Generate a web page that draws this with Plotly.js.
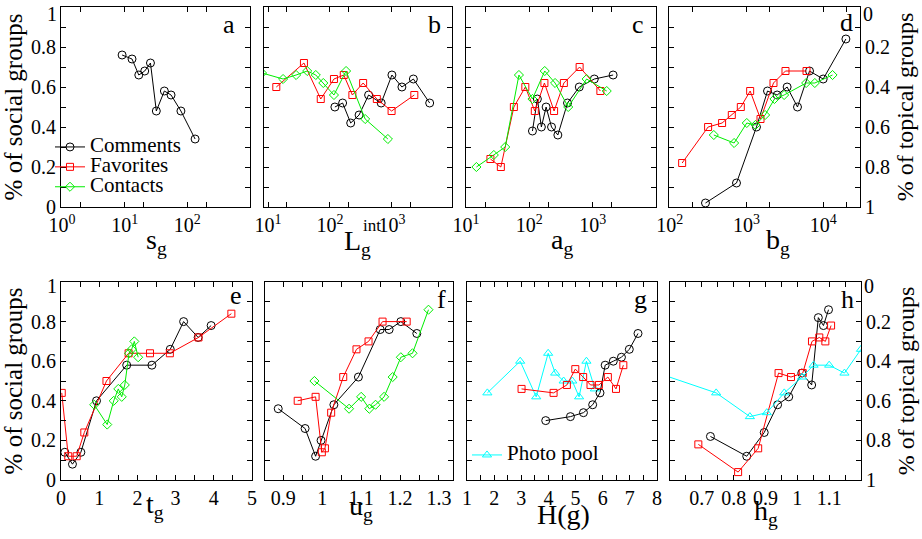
<!DOCTYPE html>
<html>
<head>
<meta charset="utf-8">
<script src="https://cdn.plot.ly/plotly-3.0.1.min.js"></script>
<style>html,body{margin:0;padding:0;background:#fff}#chart{width:922px;height:539px}</style>
</head>
<body>
<div id="chart"></div>
<script>
// ---------------- DATA ----------------
// panel a : s_g
var aCommentsX = [9.1, 13.1, 16.8, 20.9, 25.8, 32, 43, 55, 79, 133];
var aCommentsY = [0.76, 0.74, 0.66, 0.68, 0.72, 0.48, 0.58, 0.56, 0.48, 0.34];
// panel b : L_g^int
var bCommentsX = [120, 160, 216, 295, 420, 671, 1000, 1450, 2220, 4070];
var bCommentsY = [0.50, 0.52, 0.42, 0.46, 0.56, 0.52, 0.66, 0.60, 0.64, 0.52];
var bFavoritesX = [13.6, 38, 71, 116, 167, 230, 343, 571, 988, 2300];
var bFavoritesY = [0.60, 0.72, 0.54, 0.64, 0.66, 0.56, 0.62, 0.54, 0.48, 0.56];
var bContactsX = [8, 17.5, 28.4, 42.9, 59, 78, 116, 182, 370, 861];
var bContactsY = [0.67, 0.64, 0.66, 0.68, 0.66, 0.62, 0.56, 0.68, 0.44, 0.34];
// panel c : a_g
var cCommentsX = [112, 134, 155, 184, 224, 282, 401, 614, 1062, 2103];
var cCommentsY = [0.38, 0.54, 0.40, 0.50, 0.40, 0.36, 0.52, 0.60, 0.64, 0.66];
var cFavoritesX = [24.3, 35.5, 57, 86.5, 122, 173, 246, 351, 622, 1324];
var cFavoritesY = [0.24, 0.20, 0.50, 0.60, 0.48, 0.62, 0.48, 0.62, 0.70, 0.58];
var cContactsX = [14.6, 27.5, 41.6, 68.5, 112, 175, 255, 411, 803, 1667];
var cContactsY = [0.20, 0.26, 0.30, 0.66, 0.54, 0.68, 0.62, 0.50, 0.64, 0.58];
// panel d : b_g  (values on the right axis: % of topical groups)
var dCommentsX = [292, 741, 1350, 1880, 2512, 3390, 4624, 6637, 10000, 19780];
var dCommentsY = [0.98, 0.88, 0.60, 0.42, 0.44, 0.40, 0.50, 0.32, 0.36, 0.16];
var dFavoritesX = [145, 316, 481, 644, 844, 1117, 1524, 2250, 3226, 6066];
var dFavoritesY = [0.78, 0.60, 0.58, 0.54, 0.50, 0.42, 0.56, 0.38, 0.32, 0.32];
var dContactsX = [375, 690, 1009, 1309, 1750, 2317, 3097, 6000, 7780, 13240];
var dContactsY = [0.64, 0.68, 0.58, 0.59, 0.54, 0.46, 0.44, 0.38, 0.38, 0.34];
// panel e : t_g
var eCommentsX = [0.10, 0.30, 0.52, 0.93, 1.72, 2.38, 2.86, 3.21, 3.59, 3.93];
var eCommentsY = [0.14, 0.08, 0.14, 0.40, 0.58, 0.58, 0.66, 0.80, 0.72, 0.78];
var eFavoritesX = [0.02, 0.19, 0.41, 0.61, 1.19, 1.77, 2.33, 2.85, 3.6, 4.46];
var eFavoritesY = [0.44, 0.12, 0.12, 0.24, 0.50, 0.64, 0.64, 0.64, 0.72, 0.84];
var eContactsX = [0.87, 1.21, 1.38, 1.50, 1.59, 1.67, 1.78, 1.85, 1.92, 2.02];
var eContactsY = [0.38, 0.28, 0.40, 0.46, 0.42, 0.48, 0.64, 0.66, 0.70, 0.62];
// panel f : u_g
var fCommentsX = [0.887, 0.956, 0.983, 0.997, 1.030, 1.093, 1.149, 1.172, 1.202, 1.243];
var fCommentsY = [0.36, 0.26, 0.12, 0.20, 0.38, 0.52, 0.76, 0.76, 0.80, 0.74];
var fFavoritesX = [0.937, 0.983, 0.999, 1.007, 1.023, 1.054, 1.088, 1.119, 1.155, 1.217];
var fFavoritesY = [0.40, 0.42, 0.14, 0.16, 0.34, 0.52, 0.66, 0.70, 0.80, 0.80];
var fContactsX = [0.980, 1.069, 1.100, 1.121, 1.137, 1.159, 1.181, 1.202, 1.232, 1.273];
var fContactsY = [0.50, 0.36, 0.42, 0.36, 0.38, 0.42, 0.52, 0.62, 0.64, 0.86];
// panel g : H(g)
var gCommentsX = [3.9, 4.81, 5.29, 5.63, 5.9, 6.09, 6.39, 6.69, 6.98, 7.3];
var gCommentsY = [0.30, 0.32, 0.34, 0.38, 0.44, 0.58, 0.60, 0.62, 0.66, 0.74];
var gFavoritesX = [3.01, 4.19, 4.68, 4.99, 5.28, 5.55, 5.86, 6.19, 6.49, 6.76];
var gFavoritesY = [0.46, 0.44, 0.48, 0.56, 0.52, 0.48, 0.48, 0.52, 0.46, 0.58];
var gPoolX = [1.75, 2.96, 3.55, 3.99, 4.25, 4.56, 4.88, 5.13, 5.4, 5.71];
var gPoolY = [0.44, 0.60, 0.42, 0.64, 0.54, 0.50, 0.50, 0.42, 0.60, 0.46];
// panel h : h_g (values on the right axis: % of topical groups)
var hCommentsX = [0.727, 0.841, 0.896, 0.938, 0.973, 1.014, 1.045, 1.066, 1.082, 1.098];
var hCommentsY = [0.78, 0.88, 0.76, 0.62, 0.58, 0.46, 0.52, 0.18, 0.22, 0.14];
var hFavoritesX = [0.689, 0.814, 0.877, 0.941, 0.98, 1.017, 1.046, 1.069, 1.088, 1.106];
var hFavoritesY = [0.82, 0.96, 0.84, 0.46, 0.48, 0.46, 0.30, 0.28, 0.30, 0.22];
var hPoolX = [0.58, 0.745, 0.851, 0.904, 0.959, 1.015, 1.051, 1.1, 1.148, 1.2];
var hPoolY = [0.47, 0.56, 0.68, 0.66, 0.56, 0.48, 0.42, 0.42, 0.46, 0.34];

var seriesNames = ['Comments', 'Favorites', 'Contacts', 'Photo pool'];
var panelLetters = ['a', 'b', 'c', 'd', 'e', 'f', 'g', 'h'];
var xTitles = ['s<sub>g</sub>', 'L<sub>g</sub>', 'a<sub>g</sub>', 'b<sub>g</sub>',
               't<sub>g</sub>', 'u<sub>g</sub>', 'H(g)', 'h<sub>g</sub>'];
var yTitleSocial = '% of social groups';
var yTitleTopical = '% of topical groups';
var yTickVals = [0, 0.2, 0.4, 0.6, 0.8];          // labelled on the axis itself
var yTopLabelSocial = '1';                          // top label, drawn just under the frame
var yTopLabelTopical = '0';
var logTickVals = [1, 10, 100, 1000, 10000];
var logTickText = ['10<sup>0</sup>', '10<sup>1</sup>', '10<sup>2</sup>', '10<sup>3</sup>', '10<sup>4</sup>'];
var logMinorVals = [2, 20, 200, 2000, 20000];

// ---------------- STYLE ----------------
var FONT = 'Liberation Serif';
var W = 922, H = 539;
var styles = {
  Comments: {color: '#000000', symbol: 'circle-open', size: 8},
  Favorites: {color: '#ff0000', symbol: 'square-open', size: 7},
  Contacts: {color: '#00ee00', symbol: 'diamond-open', size: 7},
  'Photo pool': {color: '#00ffff', symbol: 'triangle-up-open', size: 8}
};

function tr(name, x, y, idx, legendOpt) {
  var s = styles[name];
  var ax = idx === 1 ? '' : String(idx);
  var t = {
    type: 'scatter', mode: 'lines+markers', x: x, y: y,
    xaxis: 'x' + ax, yaxis: 'y' + ax,
    name: name,
    line: {color: s.color, width: 1},
    marker: {symbol: s.symbol, size: s.size, color: s.color, line: {color: s.color, width: 1}},
    showlegend: false, hoverinfo: 'x+y'
  };
  if (legendOpt) {
    t.showlegend = true;
    t.legend = legendOpt;
    t.name = '<span style="font-size:21px">' + name + '</span>';
  }
  return t;
}

var data = [
  tr('Comments', aCommentsX, aCommentsY, 1, 'legend'),
  tr('Favorites', [null], [null], 1, 'legend'),
  tr('Contacts', [null], [null], 1, 'legend'),
  tr('Comments', bCommentsX, bCommentsY, 2),
  tr('Favorites', bFavoritesX, bFavoritesY, 2),
  tr('Contacts', bContactsX, bContactsY, 2),
  tr('Comments', cCommentsX, cCommentsY, 3),
  tr('Favorites', cFavoritesX, cFavoritesY, 3),
  tr('Contacts', cContactsX, cContactsY, 3),
  tr('Comments', dCommentsX, dCommentsY, 4),
  tr('Favorites', dFavoritesX, dFavoritesY, 4),
  tr('Contacts', dContactsX, dContactsY, 4),
  tr('Comments', eCommentsX, eCommentsY, 5),
  tr('Favorites', eFavoritesX, eFavoritesY, 5),
  tr('Contacts', eContactsX, eContactsY, 5),
  tr('Comments', fCommentsX, fCommentsY, 6),
  tr('Favorites', fFavoritesX, fFavoritesY, 6),
  tr('Contacts', fContactsX, fContactsY, 6),
  tr('Photo pool', gPoolX, gPoolY, 7, 'legend2'),
  tr('Comments', gCommentsX, gCommentsY, 7),
  tr('Favorites', gFavoritesX, gFavoritesY, 7),
  tr('Comments', hCommentsX, hCommentsY, 8),
  tr('Favorites', hFavoritesX, hFavoritesY, 8),
  tr('Photo pool', hPoolX, hPoolY, 8)
];

// pixel boxes of panels [left, right, top, bottom]
var boxes = [
  [61, 250, 7, 207], [264, 452, 7, 207], [466, 656, 7, 207], [669, 860, 7, 207],
  [61, 252, 282, 480], [265, 453, 282, 480], [467, 657, 282, 480], [670, 861, 282, 480]
];

function base(extra) {
  var o = {
    showline: true, linecolor: '#000', linewidth: 1, mirror: 'ticks',
    ticks: 'inside', ticklen: 5, tickwidth: 1, tickcolor: '#000',
    showgrid: false, zeroline: false, automargin: false,
    ticklabeloverflow: 'allow',
    tickfont: {family: FONT, size: 20, color: '#000'}
  };
  for (var k in extra) o[k] = extra[k];
  return o;
}
var MINOR = {ticks: 'inside', ticklen: 5, tickcolor: '#000', showgrid: false};
function minor(extra) { var o = {}; for (var k in MINOR) o[k] = MINOR[k]; for (var q in extra) o[q] = extra[q]; return o; }

var xOpts = [
  {type: 'log', range: [-0.016, 3.0], tickmode: 'array', tickvals: logTickVals.slice(0, 3), ticktext: logTickText.slice(0, 3),
   minor: minor({tickmode: 'array', tickvals: logMinorVals})},
  {type: 'log', range: [0.935, 3.97], tickmode: 'array', tickvals: logTickVals.slice(1, 4), ticktext: logTickText.slice(1, 4),
   minor: minor({tickmode: 'array', tickvals: logMinorVals})},
  {type: 'log', range: [1, 4.0], tickmode: 'array', tickvals: logTickVals.slice(1, 4), ticktext: logTickText.slice(1, 4),
   minor: minor({tickmode: 'array', tickvals: logMinorVals})},
  {type: 'log', range: [1.99, 4.48], tickmode: 'array', tickvals: logTickVals.slice(2, 5), ticktext: logTickText.slice(2, 5),
   minor: minor({tickmode: 'array', tickvals: logMinorVals})},
  {range: [0, 5], dtick: 1, tick0: 0, minor: minor({dtick: 0.5, tick0: 0})},
  {range: [0.853, 1.336], tickmode: 'array', tickvals: [0.9, 1, 1.1, 1.2, 1.3], ticktext: ['0.9', '1', '1.1', '1.2', '1.3'],
   minor: minor({tick0: 0, dtick: 0.05})},
  {range: [1, 8], dtick: 1, tick0: 0, minor: minor({dtick: 0.5, tick0: 0})},
  {range: [0.6, 1.2], tickmode: 'array', tickvals: [0.7, 0.8, 0.9, 1, 1.1], ticktext: ['0.7', '0.8', '0.9', '1', '1.1'],
   minor: minor({tick0: 0, dtick: 0.05})}
];

var layout = {
  width: W, height: H,
  margin: {l: 0, r: 0, t: 0, b: 0},
  paper_bgcolor: '#fff', plot_bgcolor: 'rgba(0,0,0,0)',
  font: {family: FONT, color: '#000'},
  hovermode: false,
  legend: {x: 50 / W, y: 1 - 132 / H, xanchor: 'left', yanchor: 'top', bgcolor: 'rgba(0,0,0,0)',
           borderwidth: 0, font: {family: FONT, size: 13, color: '#000'}, tracegroupgap: 0, itemwidth: 30},
  legend2: {x: 467 / W, y: 1 - 440 / H, xanchor: 'left', yanchor: 'top', bgcolor: 'rgba(0,0,0,0)',
            borderwidth: 0, font: {family: FONT, size: 13, color: '#000'}, itemwidth: 30},
  annotations: [],
  showlegend: true
};

for (var i = 0; i < 8; i++) {
  var b = boxes[i];
  var sfx = i === 0 ? '' : String(i + 1);
  var xo = base(xOpts[i]);
  xo.domain = [b[0] / W, b[1] / W];
  xo.anchor = 'y' + sfx;
  layout['xaxis' + sfx] = xo;

  var isRight = (i === 3 || i === 7);
  var isLeft = (i === 0 || i === 4);
  var yo = base({
    range: isRight ? [1, 0] : [0, 1],
    tickmode: 'array',
    tickvals: isRight ? yTickVals.map(function (v) { return 1 - v; }) : yTickVals,
    minor: minor({dtick: 0.1, tick0: 0}),
    showticklabels: isLeft || isRight,
    side: isRight ? 'right' : 'left'
  });
  yo.domain = [1 - b[3] / H, 1 - b[2] / H];
  yo.anchor = 'x' + sfx;
  if (isLeft) yo.title = {text: yTitleSocial, font: {family: FONT, size: 25, color: '#000'}, standoff: 3};
  if (isRight) yo.title = {text: yTitleTopical, font: {family: FONT, size: 24, color: '#000'}, standoff: 7};
  layout['yaxis' + sfx] = yo;
}

// top-end labels of the outer y axes, set just below the frame as in the original
var topLabels = [
  {t: yTopLabelSocial, x: 57, y: 14, anchor: 'right'},
  {t: yTopLabelTopical, x: 863, y: 14, anchor: 'left'},
  {t: yTopLabelSocial, x: 57, y: 286, anchor: 'right'},
  {t: yTopLabelTopical, x: 864, y: 286, anchor: 'left'}
];
topLabels.forEach(function (L) {
  layout.annotations.push({
    xref: 'paper', yref: 'paper', x: L.x / W, y: 1 - L.y / H, xanchor: L.anchor, yanchor: 'middle',
    showarrow: false, borderpad: 0, borderwidth: 0, text: L.t, font: {family: FONT, size: 20, color: '#000'}
  });
});

// x-axis titles (placed as text under each panel): [centre x, top y]
var xTitlePos = [[156, 222], [357, 223], [562, 222], [778, 222], [155, 486], [361, 488], [563, 497], [766, 493]];
for (var k = 0; k < 8; k++) {
  layout.annotations.push({
    xref: 'paper', yref: 'paper', x: xTitlePos[k][0] / W, y: 1 - xTitlePos[k][1] / H,
    xanchor: 'center', yanchor: 'top', showarrow: false,
    text: xTitles[k], font: {family: FONT, size: 28, color: '#000'}
  });
}
// superscript "int" of L_g^int
layout.annotations.push({
  xref: 'paper', yref: 'paper', x: 361 / W, y: 1 - 214 / H, xanchor: 'left', yanchor: 'top',
  showarrow: false, text: 'int', font: {family: FONT, size: 17, color: '#000'}
});

// panel letters
var letterPos = [[229, 24], [434, 24], [638, 24], [846, 22], [236, 295], [441, 299], [640, 299], [847, 299]];
for (var j = 0; j < 8; j++) {
  layout.annotations.push({
    xref: 'paper', yref: 'paper', x: letterPos[j][0] / W, y: 1 - letterPos[j][1] / H,
    xanchor: 'center', yanchor: 'middle', showarrow: false,
    text: panelLetters[j], font: {family: FONT, size: 26, color: '#000'}
  });
}

Plotly.newPlot('chart', data, layout, {staticPlot: true, displayModeBar: false});
</script>
</body>
</html>
